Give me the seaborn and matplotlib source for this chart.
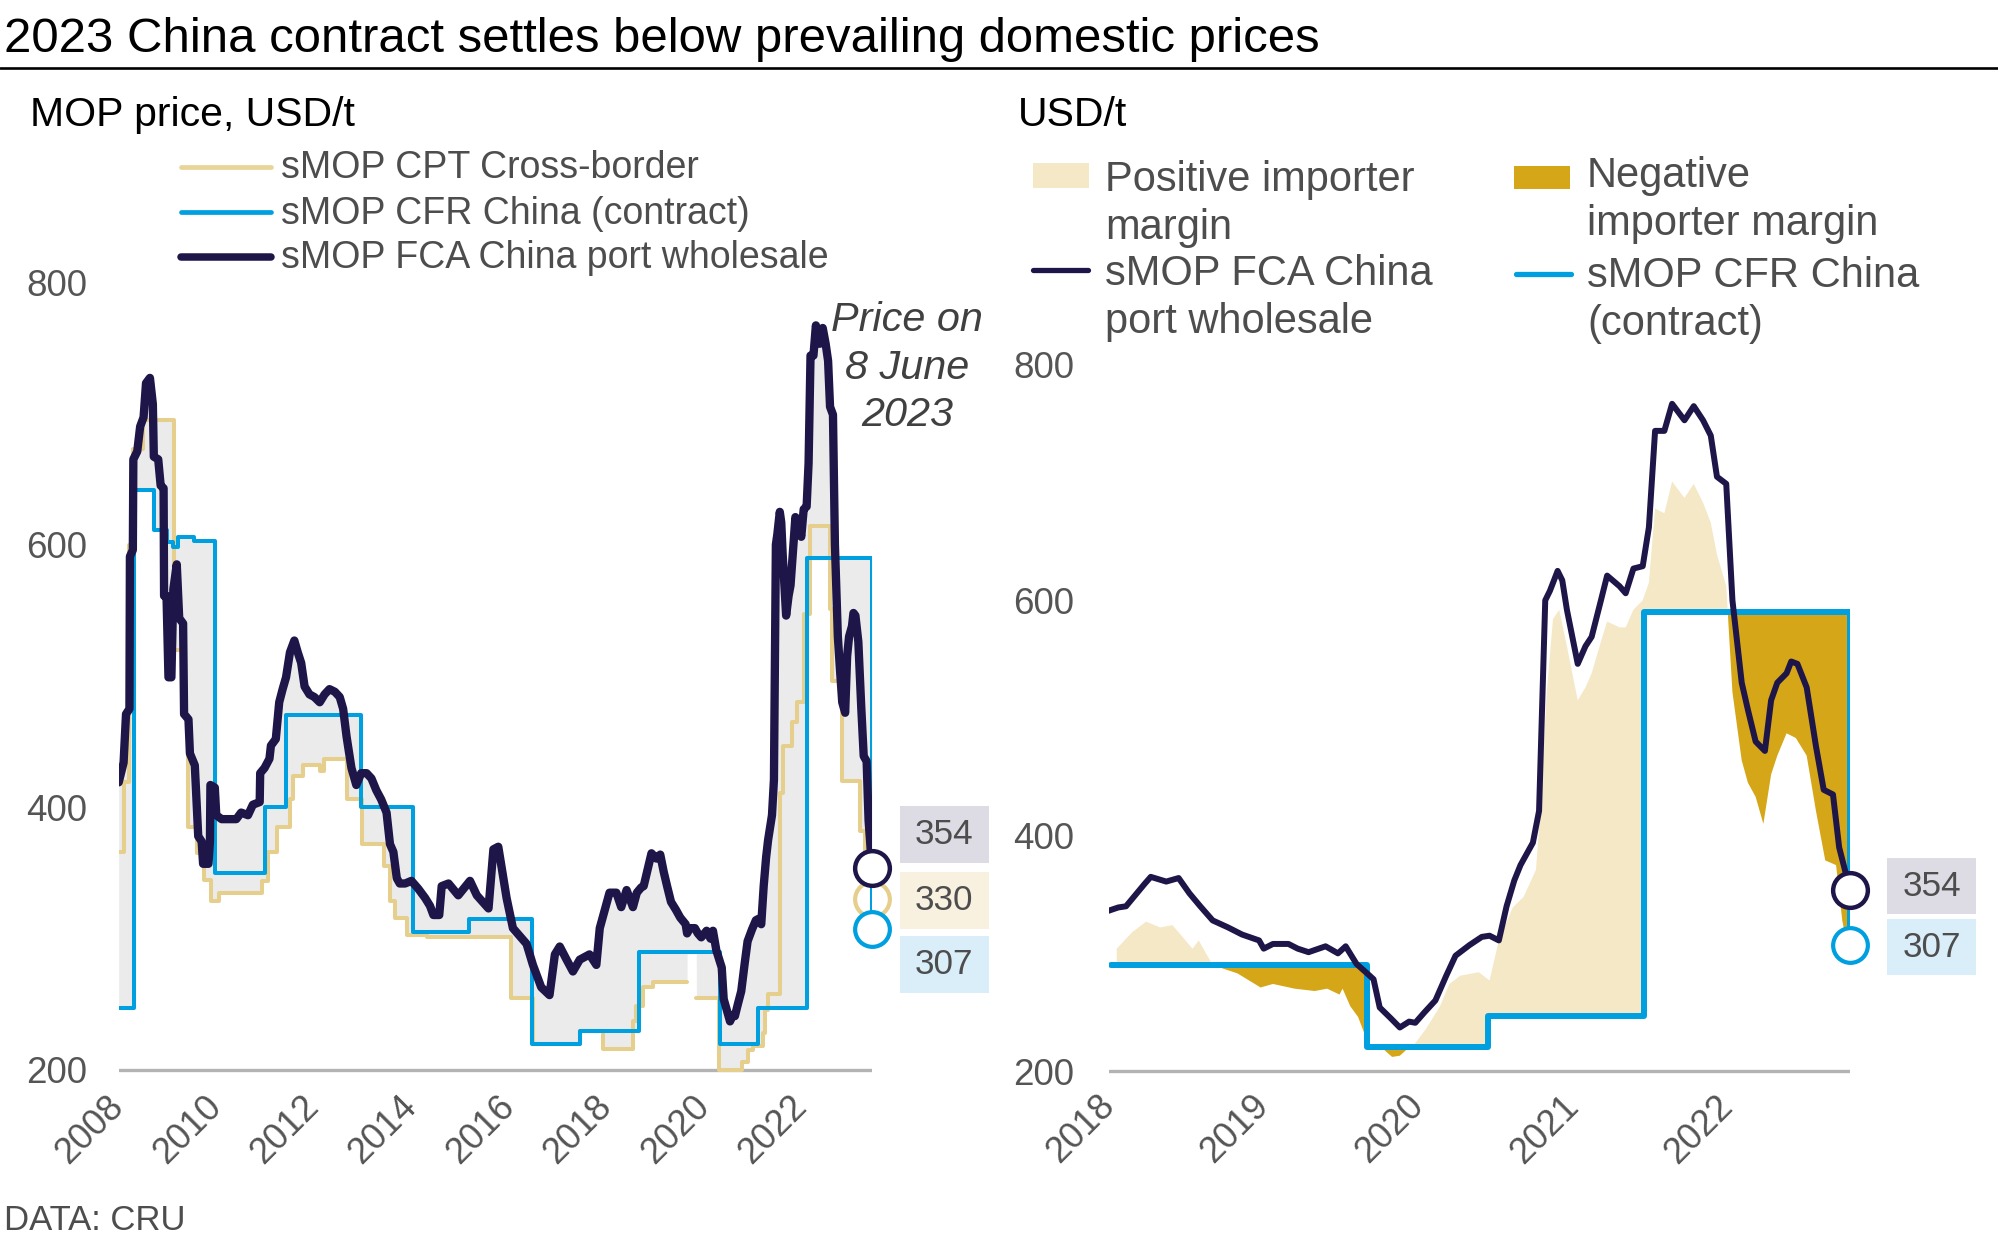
import numpy as np
import pandas as pd
import matplotlib
matplotlib.use("Agg")
import matplotlib.pyplot as plt
import matplotlib.transforms as mtransforms
from matplotlib.lines import Line2D
from matplotlib.patches import Rectangle
import seaborn as sns

sns.set_theme(style="white")
plt.rcParams["font.family"] = ["Liberation Sans", "DejaVu Sans"]

# ---------------- data ----------------
title = "2023 China contract settles below prevailing domestic prices"
left_unit = "MOP price, USD/t"
right_unit = "USD/t"
source = "DATA: CRU"
annotation = "Price on\n8 June\n2023"

series_names = ["sMOP CPT Cross-border", "sMOP CFR China (contract)", "sMOP FCA China port wholesale"]
margin_names = ["Positive importer\nmargin", "Negative\nimporter margin"]

# sMOP FCA China port wholesale (decimal year, USD/t)
fca = [(2008.00, 419), (2008.10, 434), (2008.15, 471), (2008.22, 475), (2008.23, 591), (2008.29, 596),
       (2008.30, 665), (2008.38, 671), (2008.44, 690), (2008.51, 697), (2008.56, 723), (2008.64, 727),
       (2008.70, 707), (2008.72, 667), (2008.81, 665), (2008.86, 645), (2008.92, 643), (2008.93, 561),
       (2008.98, 561), (2009.02, 499), (2009.08, 499), (2009.12, 566), (2009.19, 585), (2009.24, 544),
       (2009.32, 540), (2009.34, 471), (2009.43, 467), (2009.46, 441), (2009.56, 432), (2009.63, 378),
       (2009.70, 374), (2009.73, 357), (2009.84, 357), (2009.87, 374), (2009.88, 417), (2009.97, 415),
       (2010.00, 394), (2010.11, 391), (2010.41, 391), (2010.51, 396), (2010.65, 394), (2010.75, 402),
       (2010.89, 404), (2010.90, 426), (2010.99, 430), (2011.09, 437), (2011.12, 447), (2011.22, 452),
       (2011.29, 480), (2011.36, 490), (2011.43, 499), (2011.51, 518), (2011.60, 527), (2011.67, 518),
       (2011.74, 510), (2011.81, 492), (2011.91, 486), (2012.01, 484), (2012.12, 480), (2012.22, 486),
       (2012.32, 490), (2012.43, 488), (2012.53, 484), (2012.60, 475), (2012.67, 454), (2012.77, 430),
       (2012.87, 417), (2012.97, 426), (2013.08, 426), (2013.18, 422), (2013.28, 413), (2013.38, 406),
       (2013.49, 396), (2013.56, 372), (2013.63, 366), (2013.70, 346), (2013.76, 342), (2013.87, 342),
       (2014.00, 344), (2014.14, 338), (2014.28, 331), (2014.38, 325), (2014.45, 318), (2014.57, 318),
       (2014.62, 340), (2014.76, 342), (2014.96, 333), (2015.20, 344), (2015.34, 333), (2015.58, 323),
       (2015.68, 368), (2015.78, 370), (2015.95, 331), (2016.08, 308), (2016.22, 302), (2016.36, 296),
       (2016.49, 280), (2016.66, 263), (2016.83, 257), (2016.94, 288), (2017.04, 294), (2017.18, 284),
       (2017.31, 275), (2017.45, 284), (2017.65, 288), (2017.79, 280), (2017.86, 308), (2018.06, 335),
       (2018.20, 335), (2018.30, 324), (2018.41, 337), (2018.54, 324), (2018.62, 335), (2018.71, 339),
       (2018.76, 340), (2018.88, 359), (2018.92, 365), (2019.02, 361), (2019.10, 364), (2019.17, 351),
       (2019.24, 340), (2019.32, 328), (2019.42, 322), (2019.51, 316), (2019.62, 311), (2019.65, 304),
       (2019.71, 308), (2019.81, 308), (2019.87, 304), (2019.94, 301), (2020.05, 306), (2020.13, 300),
       (2020.18, 306), (2020.25, 291), (2020.31, 284), (2020.36, 278), (2020.40, 254), (2020.47, 245),
       (2020.53, 237), (2020.59, 242), (2020.63, 241), (2020.69, 250), (2020.76, 260), (2020.83, 281),
       (2020.89, 298), (2020.98, 307), (2021.06, 314), (2021.11, 315), (2021.17, 311), (2021.22, 340),
       (2021.27, 362), (2021.31, 375), (2021.39, 394), (2021.43, 421), (2021.47, 600), (2021.50, 608),
       (2021.55, 625), (2021.58, 617), (2021.61, 592), (2021.68, 546), (2021.73, 561), (2021.77, 569),
       (2021.83, 600), (2021.87, 621), (2021.95, 612), (2021.99, 606), (2022.04, 627), (2022.10, 629),
       (2022.14, 662), (2022.18, 744), (2022.24, 744), (2022.29, 767), (2022.37, 753), (2022.43, 765),
       (2022.49, 753), (2022.54, 740), (2022.58, 705), (2022.64, 699), (2022.68, 600), (2022.74, 530),
       (2022.78, 507), (2022.83, 480), (2022.89, 472), (2022.93, 515), (2022.97, 530), (2023.03, 538),
       (2023.06, 548), (2023.10, 546), (2023.16, 526), (2023.22, 476), (2023.27, 439), (2023.33, 435),
       (2023.37, 390), (2023.44, 354)]

# sMOP CPT Cross-border, stepped (nan = no assessment)
cpt = [(2008.00, 366), (2008.10, 419), (2008.22, 600), (2008.30, 673), (2008.50, 695), (2009.13, 520),
       (2009.30, 470), (2009.43, 385), (2009.60, 365), (2009.75, 345), (2009.90, 329), (2010.05, 335),
       (2010.93, 344), (2011.07, 366), (2011.24, 385), (2011.51, 406), (2011.58, 424), (2011.78, 432),
       (2012.13, 428), (2012.20, 437), (2012.67, 406), (2012.98, 372), (2013.44, 355), (2013.56, 329),
       (2013.66, 316), (2013.90, 303), (2014.31, 301), (2016.05, 255), (2016.49, 220), (2017.46, 230),
       (2017.93, 216), (2018.55, 237), (2018.60, 249), (2018.75, 263), (2018.95, 267), (2019.65, np.nan),
       (2019.84, 255), (2020.30, 200), (2020.77, 206), (2020.90, 215), (2021.00, 218), (2021.21, 228),
       (2021.24, 246), (2021.31, 258), (2021.55, 411), (2021.62, 447), (2021.80, 465), (2021.90, 480),
       (2022.05, 547), (2022.17, 614), (2022.57, 551), (2022.62, 496), (2022.83, 420), (2023.20, 382),
       (2023.30, 359), (2023.44, 330)]

# sMOP CFR China (contract), stepped
cfr = [(2008.00, 247), (2008.31, 642), (2008.72, 611), (2008.99, 602), (2009.12, 598), (2009.22, 606),
       (2009.55, 603), (2009.97, 350), (2010.99, 400), (2011.43, 470), (2012.97, 400), (2014.03, 305),
       (2015.17, 315), (2016.47, 220), (2017.46, 230), (2018.66, 290), (2020.32, 220), (2021.10, 247),
       (2022.11, 590), (2023.44, 307)]

# FCA price net of importer costs (edge of the margin areas, right panel)
net = [(2018.70, 304), (2018.80, 318), (2018.89, 327), (2018.98, 322), (2019.06, 324), (2019.19, 304),
       (2019.23, 311), (2019.32, 290), (2019.48, 283), (2019.63, 271), (2019.71, 274), (2019.85, 270),
       (2019.98, 268), (2020.06, 270), (2020.14, 265), (2020.16, 270), (2020.21, 255), (2020.26, 246),
       (2020.33, 222), (2020.42, 219), (2020.48, 212), (2020.53, 213), (2020.58, 219), (2020.62, 222),
       (2020.70, 236), (2020.79, 255), (2020.85, 274), (2020.92, 281), (2021.04, 284), (2021.11, 277),
       (2021.17, 311), (2021.26, 339), (2021.33, 348), (2021.41, 371), (2021.43, 406), (2021.48, 522),
       (2021.52, 584), (2021.56, 592), (2021.61, 561), (2021.68, 515), (2021.73, 526), (2021.77, 538),
       (2021.83, 565), (2021.87, 582), (2021.95, 577), (2021.99, 577), (2022.04, 592), (2022.10, 600),
       (2022.14, 615), (2022.18, 678), (2022.24, 674), (2022.29, 701), (2022.37, 687), (2022.43, 699),
       (2022.49, 683), (2022.54, 666), (2022.58, 639), (2022.64, 612), (2022.68, 522), (2022.74, 464),
       (2022.78, 445), (2022.83, 433), (2022.88, 410), (2022.93, 452), (2022.97, 468), (2023.03, 487),
       (2023.09, 483), (2023.16, 468), (2023.22, 421), (2023.28, 379), (2023.35, 375), (2023.39, 328),
       (2023.43, 300)]

latest_date = 2023.44
latest_fca, latest_cpt, latest_cfr = 354, 330, 307

left_xticks = [2008, 2010, 2012, 2014, 2016, 2018, 2020, 2022]
right_xticklabels = ["2018", "2019", "2020", "2021", "2022"]
y_ticks = [200, 400, 600, 800]

# ---------------- style ----------------
FCA_C = "#1e1548"
CFR_C = "#009fdf"
CPT_C = "#e6cf8c"
BAND_C = "#ebebeb"
POS_C = "#f5e8c6"
NEG_C = "#d5a617"
BASE_C = "#b3b3b3"
TXT_C = "#4d4d4d"

W, H = 1998, 1244
fig = plt.figure(figsize=(W / 100, H / 100), dpi=100)
fig.patch.set_facecolor("white")


def fx(p):
    return p / W


def fy(p):
    return 1 - p / H


def step_values(grid, pts):
    d = np.array([p[0] for p in pts])
    v = np.array([p[1] for p in pts], dtype=float)
    idx = np.clip(np.searchsorted(d, grid, side="right") - 1, 0, len(v) - 1)
    return v[idx]


fca_df = pd.DataFrame(fca, columns=["date", "val"])
cfr_df = pd.DataFrame(cfr, columns=["date", "val"])
net_df = pd.DataFrame(net, columns=["date", "val"])

# split CPT into drawable segments at the gaps
rows, seg, prev = [], 0, None
for d, v in cpt:
    if np.isnan(v):
        rows.append((d, prev, seg))
        seg += 1
    else:
        rows.append((d, v, seg))
        prev = v
cpt_df = pd.DataFrame(rows, columns=["date", "val", "seg"])

right_start = 2018.70
# the right panel only shows the period from the 2018 contract onwards
cfr_right = cfr_df[cfr_df["date"] >= cfr_df["date"][cfr_df["date"] <= right_start].max()]
fca_right = fca_df[fca_df["date"] >= fca_df["date"][fca_df["date"] <= right_start].max()]

# ---------------- axes ----------------
axL = fig.add_axes([fx(118.7), fy(1083.1), fx(872) - fx(118.7), (1083.1 - 268.9) / H])
axR = fig.add_axes([fx(1109), fy(1082.8), fx(1850) - fx(1109), (1082.8 - 353.2) / H])

for ax in (axL, axR):
    for s in ax.spines.values():
        s.set_visible(False)
    ax.set_facecolor("none")
    ax.axhline(200, color=BASE_C, lw=2.4, zorder=1.5)

# ---- left panel ----
g = np.linspace(2008.0, latest_date, 8000)
f_g = np.interp(g, fca_df["date"], fca_df["val"])
cp_g = step_values(g, cpt)
cf_g = step_values(g, cfr)
stack = np.vstack([f_g, cp_g, cf_g])
axL.fill_between(g, np.nanmin(stack, axis=0), np.nanmax(stack, axis=0), color=BAND_C, lw=0, zorder=1)

sns.lineplot(data=cpt_df, x="date", y="val", units="seg", estimator=None, ax=axL, color=CPT_C,
             linewidth=2.9, drawstyle="steps-post", legend=False, zorder=2)
sns.lineplot(data=cfr_df, x="date", y="val", estimator=None, ax=axL, color=CFR_C,
             linewidth=2.9, drawstyle="steps-post", legend=False, zorder=3)
sns.lineplot(data=fca_df, x="date", y="val", estimator=None, ax=axL, color=FCA_C,
             linewidth=6.0, legend=False, zorder=4, solid_joinstyle="round", solid_capstyle="round")

axL.plot([latest_date], [latest_cpt], "o", ms=25, mfc="white", mec=CPT_C, mew=3, clip_on=False, zorder=2.5)
axL.plot([latest_date], [latest_cfr], "o", ms=25, mfc="white", mec=CFR_C, mew=3, clip_on=False, zorder=6)
axL.plot([latest_date], [latest_fca], "o", ms=25, mfc="white", mec=FCA_C, mew=3.2, clip_on=False, zorder=7)

# ---- right panel ----
g2 = np.linspace(net_df["date"].iloc[0], net_df["date"].iloc[-1], 6000)
n_g = np.interp(g2, net_df["date"], net_df["val"])
c_g = step_values(g2, cfr)
axR.fill_between(g2, c_g, n_g, where=n_g >= c_g, interpolate=True, color=POS_C, lw=0, zorder=1)
axR.fill_between(g2, c_g, n_g, where=n_g < c_g, interpolate=True, color=NEG_C, lw=0, zorder=1)

sns.lineplot(data=cfr_right, x="date", y="val", estimator=None, ax=axR, color=CFR_C,
             linewidth=4.3, drawstyle="steps-post", legend=False, zorder=3)
sns.lineplot(data=fca_right, x="date", y="val", estimator=None, ax=axR, color=FCA_C,
             linewidth=4.3, legend=False, zorder=4, solid_joinstyle="round", solid_capstyle="round")

axR.plot([latest_date], [latest_cfr], "o", ms=25, mfc="white", mec=CFR_C, mew=3, clip_on=False, zorder=6)
axR.plot([latest_date], [latest_fca], "o", ms=25, mfc="white", mec=FCA_C, mew=3.2, clip_on=False, zorder=7)

# ---- scales & ticks (after all plotting so nothing autoscales) ----
axL.set_xlim(2008.0, latest_date)
axL.set_ylim(190, 810)
axR.set_xlim(right_start, latest_date)
axR.set_ylim(190, 810)

axL.set_xticks(left_xticks)
axL.set_xticklabels([str(y) for y in left_xticks])
axR.set_xticks([right_start - 0.05 + k for k in range(len(right_xticklabels))])
axR.set_xticklabels(right_xticklabels)
for ax, ypad in ((axL, 22.8), (axR, 25)):
    ax.set_yticks(y_ticks)
    ax.set_yticklabels([str(v) for v in y_ticks])
    ax.tick_params(axis="y", length=0, pad=ypad, labelsize=26.5, labelcolor="#555555")
    ax.tick_params(axis="x", length=0, pad=13, labelsize=26, labelcolor="#555555")
    ax.set_xlabel("")
    ax.set_ylabel("")
    ax.grid(False)
    for lab in ax.get_xticklabels():
        lab.set_rotation(45)
        lab.set_ha("right")
        lab.set_va("center")
        lab.set_rotation_mode("anchor")

# ---- latest-value boxes ----
trL = mtransforms.blended_transform_factory(axL.transAxes, axL.transData)
trR = mtransforms.blended_transform_factory(axR.transAxes, axR.transData)
box_left = [(latest_fca, 379, "#dddce4"), (latest_cpt, 329, "#f8f1df"), (latest_cfr, 280, "#d9eef9")]
for val, yc, bg in box_left:
    axL.add_patch(Rectangle((1.037, yc - 21.7), 0.118, 43.4, transform=trL, facecolor=bg,
                            edgecolor="none", clip_on=False, zorder=5))
    axL.text(1.096, yc, str(val), transform=trL, ha="center", va="center", fontsize=25.3,
             color=TXT_C, zorder=8, clip_on=False)
box_right = [(latest_fca, 357, "#dddce4"), (latest_cfr, 305, "#d9eef9")]
for val, yc, bg in box_right:
    axR.add_patch(Rectangle((1.05, yc - 23.8), 0.12, 47.6, transform=trR, facecolor=bg,
                            edgecolor="none", clip_on=False, zorder=5))
    axR.text(1.11, yc, str(val), transform=trR, ha="center", va="center", fontsize=25.3,
             color=TXT_C, zorder=8, clip_on=False)

# ---------------- texts ----------------
fig.text(fx(4), fy(52), title, fontsize=35.4, color="black", va="baseline", ha="left")
fig.add_artist(Line2D([0, 1], [fy(68), fy(68)], transform=fig.transFigure, color="black", lw=1.9))
fig.text(fx(30), fy(126), left_unit, fontsize=29.5, color="black", va="baseline")
fig.text(fx(1018), fy(126), right_unit, fontsize=29.5, color="black", va="baseline")
fig.text(fx(907), fy(426), annotation, fontsize=29.8, style="italic", color="#404040",
         ha="center", va="baseline", multialignment="center", linespacing=1.31)
fig.text(fx(4), fy(1230), source, fontsize=25, color=TXT_C, va="baseline")

# left legend
leg_rows = [(series_names[0], "#e8d597", 3.4, 167, 178),
            (series_names[1], CFR_C, 3.4, 212, 224),
            (series_names[2], FCA_C, 5.4, 257, 268)]
for lab, col, lw, yl, yb in leg_rows:
    fig.add_artist(Line2D([fx(181), fx(271)], [fy(yl), fy(yl)], transform=fig.transFigure,
                          color=col, lw=lw, solid_capstyle="round"))
    fig.text(fx(281), fy(yb), lab, fontsize=27, color=TXT_C, va="baseline")

# right legend
fig.add_artist(Rectangle((fx(1033), fy(188)), fx(1089) - fx(1033), 25 / H, transform=fig.transFigure,
                         facecolor=POS_C, edgecolor="none"))
fig.add_artist(Rectangle((fx(1514), fy(189)), fx(1570) - fx(1514), 23 / H, transform=fig.transFigure,
                         facecolor=NEG_C, edgecolor="none"))
fig.add_artist(Line2D([fx(1033), fx(1088)], [fy(270), fy(270)], transform=fig.transFigure,
                      color=FCA_C, lw=3.8, solid_capstyle="round"))
fig.add_artist(Line2D([fx(1516), fx(1571)], [fy(274), fy(274)], transform=fig.transFigure,
                      color=CFR_C, lw=3.8, solid_capstyle="round"))
right_leg_text = [(margin_names[0].split("\n"), 1105, [191, 239]),
                  (["sMOP FCA China", "port wholesale"], 1105, [285, 333]),
                  (margin_names[1].split("\n"), 1587, [187, 235]),
                  (["sMOP CFR China", "(contract)"], 1587, [287, 335])]
for lines, x0, ybs in right_leg_text:
    for ln, yb in zip(lines, ybs):
        fig.text(fx(x0), fy(yb), ln, fontsize=30, color=TXT_C, va="baseline")

fig.savefig("out.png", dpi=100, facecolor="white")
